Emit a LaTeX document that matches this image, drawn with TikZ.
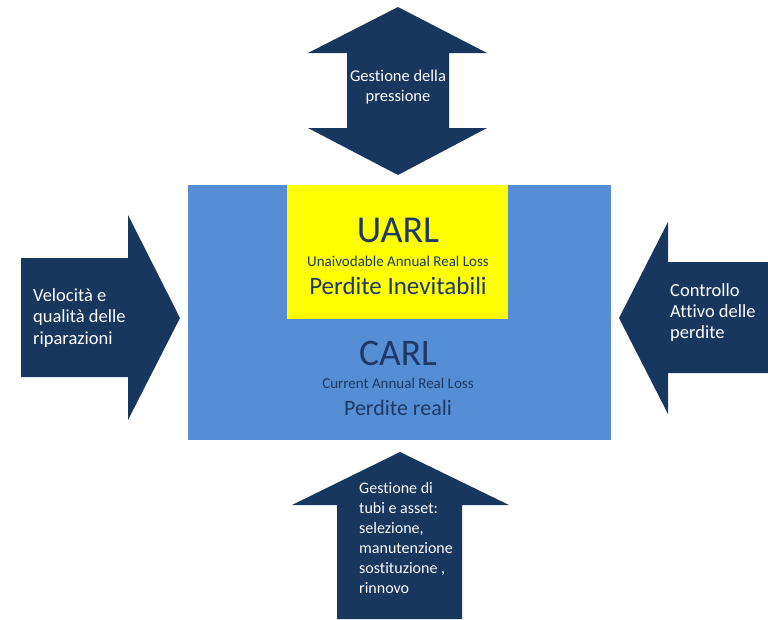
\documentclass[tikz,border=0pt]{standalone}
\usepackage{fontspec}
\setmainfont{Carlito}[RawFeature={-liga;-clig;-calt;-dlig}]
\definecolor{navy}{HTML}{17375E}
\definecolor{boxblue}{HTML}{558ED5}
\definecolor{boxtext}{HTML}{1F3864}
\definecolor{lossyellow}{HTML}{FFFF00}
\tikzset{
  arrowbody/.style={fill=navy},
  arrowlabel/.style={text=white, inner sep=0pt, align=left,
    font=\fontsize{16}{20.5}\selectfont},
  bigtitle/.style={text=boxtext, inner sep=0pt, font=\fontsize{38}{42}\selectfont},
  subtitle/.style={text=boxtext, inner sep=0pt, font=\fontsize{15}{17}\selectfont},
}
\begin{document}
\begin{tikzpicture}[x=1pt, y=-1pt]
\useasboundingbox (0,0) rectangle (768,619);
\fill[white] (0,0) rectangle (768,619);

% central loss boxes
\fill[boxblue] (188,185) rectangle (611,440);
\fill[lossyellow] (287,185) rectangle (508,319);

\node[bigtitle] (uarl) at (398,230) {UARL};
\node[subtitle] (uarlsub) at (398,261) {Unaivodable Annual Real Loss};
\node[text=boxtext, inner sep=0pt, font=\fontsize{25}{28}\selectfont] (uarlit) at (398,286) {Perdite Inevitabili};
\node[bigtitle, font=\fontsize{37.5}{42}\selectfont] (carl) at (398,353) {CARL};
\node[subtitle] (carlsub) at (398,383) {Current Annual Real Loss};
\node[text=boxtext, inner sep=0pt, font=\fontsize{22}{26}\selectfont] (carlit) at (398,408) {Perdite reali};

% pressure management: double arrow on top
\fill[arrowbody] (398,7) -- (487,53) -- (449,53) -- (449,128) -- (487,128)
  -- (398,175) -- (308,128) -- (347,128) -- (347,53) -- (308,53) -- cycle;
\node[arrowlabel, align=center, font=\fontsize{16.5}{20}\selectfont] (press) at (398,87)
  {Gestione della\\pressione};

% repairs: arrow from the left
\fill[arrowbody] (21,258) -- (128,258) -- (128,215) -- (180,318)
  -- (128,420) -- (128,377) -- (21,377) -- cycle;
\node[arrowlabel, anchor=west, font=\fontsize{18.5}{21.5}\selectfont] (repair) at (33,318)
  {Velocità e\\qualità delle\\riparazioni};

% active leakage control: arrow from the right
\fill[arrowbody] (768,262) -- (668,262) -- (668,222) -- (619,318)
  -- (668,414) -- (668,373) -- (768,373) -- cycle;
\node[arrowlabel, anchor=west, font=\fontsize{18.5}{21}\selectfont] (control) at (670,313)
  {Controllo\\Attivo delle\\perdite};

% asset management: arrow from below
\fill[arrowbody] (400,452) -- (509,505) -- (462,505) -- (462,619)
  -- (337,619) -- (337,505) -- (292,505) -- cycle;
\node[arrowlabel, anchor=west, font=\fontsize{16}{20}\selectfont] (asset) at (359,538)
  {Gestione di\\tubi e asset:\\selezione,\\manutenzione\\sostituzione ,\\rinnovo};
\end{tikzpicture}
\end{document}
